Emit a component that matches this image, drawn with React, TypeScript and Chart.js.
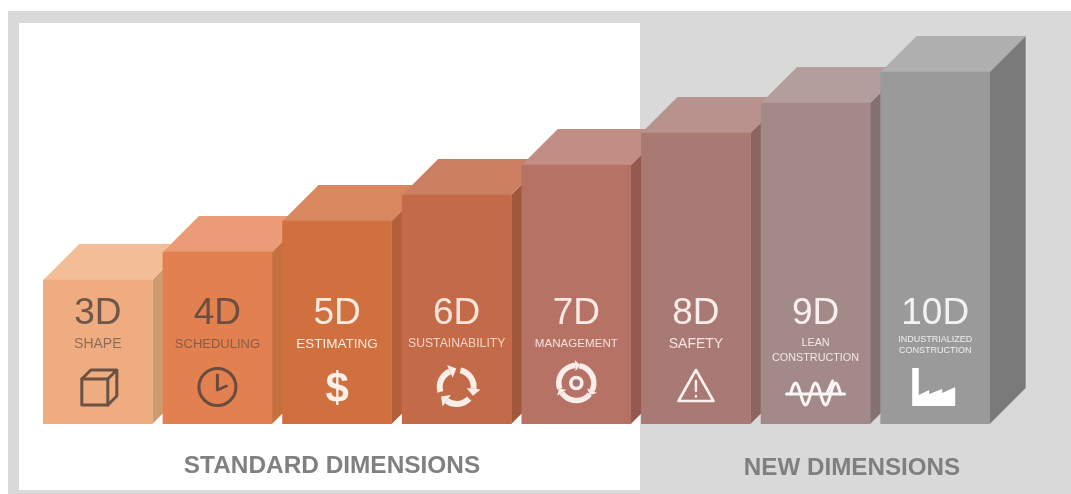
import React, { useEffect, useRef } from "react";
import { Chart, registerables } from "chart.js";

Chart.register(...registerables);

// ---- data ----
const categories = ["3D", "4D", "5D", "6D", "7D", "8D", "9D", "10D"];
const heights = [144, 172, 203, 229, 259, 291, 321, 352];
const subLabels = [
  ["SHAPE"],
  ["SCHEDULING"],
  ["ESTIMATING"],
  ["SUSTAINABILITY"],
  ["MANAGEMENT"],
  ["SAFETY"],
  ["LEAN", "CONSTRUCTION"],
  ["INDUSTRIALIZED", "CONSTRUCTION"],
];
const groupLabels = ["STANDARD DIMENSIONS", "NEW DIMENSIONS"];

// ---- styles ----
const frontColors = ["#efac80", "#e3804f", "#d1703f", "#c36a49", "#b67365", "#a87a73", "#a38a89", "#9a9a9a"];
const topColors = ["#f3bd97", "#eb9c76", "#d9875f", "#cd7f62", "#c28d84", "#b8938d", "#b49e9d", "#afafaf"];
const sideColors = ["#d09a70", "#c4703f", "#b3603a", "#a0573c", "#95594d", "#8b6660", "#857270", "#7a7a7a"];
const textColors = ["#6e5648", "#6d4f42", "#fbeadf", "#f8e3d8", "#f8e8e2", "#f8ecea", "#f8eeee", "#f2f2f2"];
const subColors = ["#8e6d57", "#8a5c46", "#fbeadf", "#f3d3c4", "#f5e0da", "#f5e3e1", "#f3e6e6", "#eeeeee"];
const subFontSizes = [14, 13, 13.5, 12.2, 11.6, 14, 10.8, 9];
const iconColors = ["#6b5244", "#6b4b3d", "#fbf1ea", "#fbeee8", "#fbeeea", "#fbf0ee", "#fdf6f6", "#ffffff"];
const DEPTH = 36;
const FONT = '"Liberation Sans", Arial, sans-serif';

function drawIcon(c: CanvasRenderingContext2D, i: number, x: number, color: string) {
  c.save();
  c.strokeStyle = color;
  c.fillStyle = color;
  c.lineJoin = "round";
  c.lineCap = "round";
  if (i === 0) {
    c.lineWidth = 3;
    const l = x - 16, t = 379, s = 26, d = 9;
    c.strokeRect(l, t, s, s);
    c.beginPath();
    c.moveTo(l, t); c.lineTo(l + d, t - d); c.lineTo(l + s + d, t - d); c.lineTo(l + s, t);
    c.moveTo(l + s + d, t - d); c.lineTo(l + s + d, t + s - d); c.lineTo(l + s, t + s);
    c.stroke();
  } else if (i === 1) {
    c.lineWidth = 3;
    c.beginPath(); c.arc(x, 387, 18.5, 0, Math.PI * 2); c.stroke();
    c.beginPath(); c.moveTo(x, 375); c.lineTo(x, 390); c.lineTo(x + 9, 386); c.stroke();
  } else if (i === 2) {
    c.font = `bold 42px ${FONT}`;
    c.textAlign = "center"; c.textBaseline = "middle";
    c.fillText("$", x, 390);
  } else if (i === 3) {
    const cx = x, cy = 387, r = 17;
    c.lineWidth = 6; c.lineCap = "butt";
    [-1.35, 0.75, 2.85].forEach((a) => {
      const end = a + 1.45;
      c.beginPath(); c.arc(cx, cy, r, a, end); c.stroke();
      const ex = cx + r * Math.cos(end), ey = cy + r * Math.sin(end);
      const tx = -Math.sin(end), ty = Math.cos(end), nx = Math.cos(end), ny = Math.sin(end);
      c.beginPath();
      c.moveTo(ex + nx * 7, ey + ny * 7);
      c.lineTo(ex - nx * 7, ey - ny * 7);
      c.lineTo(ex + tx * 7, ey + ty * 7);
      c.closePath(); c.fill();
    });
  } else if (i === 4) {
    const cx = x, cy = 383, r = 17.5;
    c.lineWidth = 5.5; c.lineCap = "butt";
    [-1.4, 0.7, 2.8].forEach((a) => {
      const end = a + 1.85;
      c.beginPath(); c.arc(cx, cy, r, a, end); c.stroke();
      const ex = cx + r * Math.cos(end), ey = cy + r * Math.sin(end);
      const tx = -Math.sin(end), ty = Math.cos(end), nx = Math.cos(end), ny = Math.sin(end);
      c.beginPath();
      c.moveTo(ex + nx * 5.5, ey + ny * 5.5);
      c.lineTo(ex - nx * 5.5, ey - ny * 5.5);
      c.lineTo(ex + tx * 5, ey + ty * 5);
      c.closePath(); c.fill();
    });
    c.lineWidth = 3.6;
    c.beginPath(); c.arc(cx, cy, 5.5, 0, Math.PI * 2); c.stroke();
    c.fillStyle = "#7f7f9f";
    c.beginPath(); c.arc(cx, cy, 2, 0, Math.PI * 2); c.fill();
  } else if (i === 5) {
    c.lineWidth = 2.6;
    c.beginPath();
    c.moveTo(x, 370); c.lineTo(x + 17.5, 401); c.lineTo(x - 17.5, 401); c.closePath(); c.stroke();
    c.lineWidth = 2.4;
    c.beginPath(); c.moveTo(x, 381); c.lineTo(x, 391); c.stroke();
    c.beginPath(); c.moveTo(x, 396); c.lineTo(x, 396.5); c.stroke();
  } else if (i === 6) {
    c.lineWidth = 3;
    c.beginPath(); c.moveTo(x - 29, 394); c.lineTo(x + 29, 394); c.stroke();
    c.lineWidth = 3;
    c.beginPath();
    for (let k = 0; k <= 50; k++) {
      const px = x - 25 + k;
      const py = 394 - Math.sin((k / 50) * Math.PI * 5) * 11;
      if (k === 0) c.moveTo(px, py); else c.lineTo(px, py);
    }
    c.stroke();
    c.beginPath(); c.moveTo(x + 12, 392); c.lineTo(x + 17, 381); c.stroke();
  } else {
    const l = x - 23;
    c.beginPath();
    c.moveTo(l, 368); c.lineTo(l + 6.5, 368); c.lineTo(l + 6.5, 395);
    c.lineTo(l + 17, 390); c.lineTo(l + 17, 394);
    c.lineTo(l + 30, 389); c.lineTo(l + 30, 393);
    c.lineTo(l + 43, 387); c.lineTo(l + 43, 406); c.lineTo(l, 406);
    c.closePath(); c.fill();
  }
  c.restore();
}

const facesPlugin = {
  id: "faces",
  beforeDraw(chart: any) {
    const c: CanvasRenderingContext2D = chart.ctx;
    c.save();
    c.fillStyle = "#ffffff"; c.fillRect(0, 0, 1071, 494);
    c.fillStyle = "#d9d9d9"; c.fillRect(8, 11, 1063, 483);
    c.fillStyle = "#ffffff"; c.fillRect(19, 23, 621, 467);
    c.restore();
  },
  beforeDatasetsDraw(chart: any) {
    const c: CanvasRenderingContext2D = chart.ctx;
    chart.getDatasetMeta(0).data.forEach((b: any, i: number) => {
      const l = b.x - b.width / 2, r = b.x + b.width / 2;
      c.fillStyle = sideColors[i];
      c.beginPath();
      c.moveTo(r, b.y); c.lineTo(r + DEPTH, b.y - DEPTH);
      c.lineTo(r + DEPTH, b.base - DEPTH); c.lineTo(r, b.base);
      c.closePath(); c.fill();
      c.fillStyle = topColors[i];
      c.beginPath();
      c.moveTo(l, b.y); c.lineTo(l + DEPTH, b.y - DEPTH);
      c.lineTo(r + DEPTH, b.y - DEPTH); c.lineTo(r, b.y);
      c.closePath(); c.fill();
    });
  },
  afterDatasetsDraw(chart: any) {
    const c: CanvasRenderingContext2D = chart.ctx;
    c.save();
    c.textAlign = "center";
    c.textBaseline = "middle";
    chart.getDatasetMeta(0).data.forEach((b: any, i: number) => {
      c.fillStyle = textColors[i];
      c.font = `37px ${FONT}`;
      c.fillText(categories[i], b.x, 314);
      c.fillStyle = subColors[i];
      c.font = `${subFontSizes[i]}px ${FONT}`;
      const lines = subLabels[i];
      if (lines.length === 1) c.fillText(lines[0], b.x, 344);
      else {
        const gap = i === 7 ? 11 : 15;
        const y0 = i === 7 ? 340 : 343;
        lines.forEach((t, k) => c.fillText(t, b.x, y0 + k * gap));
      }
      drawIcon(c, i, b.x, iconColors[i]);
    });
    c.fillStyle = "#808080";
    c.font = `bold 24.4px ${FONT}`;
    c.fillText(groupLabels[0], 332, 466);
    c.fillStyle = "#7f7f7f";
    c.font = `bold 24.2px ${FONT}`;
    c.fillText(groupLabels[1], 852, 468);
    c.restore();
  },
};

export default function App() {
  const ref = useRef<HTMLCanvasElement>(null);
  useEffect(() => {
    document.body.style.margin = "0";
    const chart = new Chart(ref.current!, {
      type: "bar",
      data: {
        labels: categories,
        datasets: [
          {
            data: heights,
            backgroundColor: frontColors,
            barThickness: 109,
            borderWidth: 0,
          },
        ],
      },
      options: {
        animation: false,
        responsive: false,
        devicePixelRatio: 1,
        layout: { padding: { left: 38, right: 76, top: 24, bottom: 70 } },
        plugins: { legend: { display: false }, tooltip: { enabled: false } },
        scales: {
          x: { display: false, offset: true, grid: { display: false } },
          y: { display: false, min: 0, max: 400, grid: { display: false } },
        },
      },
      plugins: [facesPlugin],
    } as any);
    return () => chart.destroy();
  }, []);
  return (
    <canvas
      ref={ref}
      width={1071}
      height={494}
      style={{ display: "block", width: 1071, height: 494, filter: "blur(0.5px)" }}
    />
  );
}
